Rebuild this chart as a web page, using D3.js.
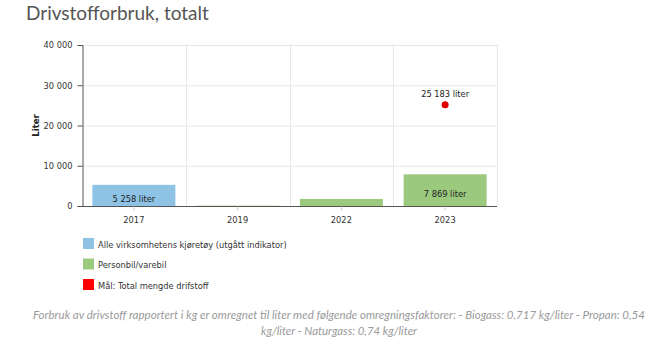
<!DOCTYPE html>
<html>
<head>
<meta charset="utf-8">
<script src="https://cdn.jsdelivr.net/npm/d3@7"></script>
<style>
  html, body { margin: 0; padding: 0; background: #fff; }
  svg { display: block; }
</style>
</head>
<body>
<svg id="chart" width="650" height="339"></svg>
<script>
// Fuel consumption per year (litres)
const years = ["2017", "2019", "2022", "2023"];
const allVehicles = [5258, null, null, null];        // Alle virksomhetens kjøretøy (utgått indikator)
const carsVans = [null, 80, 1750, 7869];               // Personbil/varebil
const targetYear = "2023";
const targetValue = 25183;                             // Mål: Total mengde drifstoff
const yTicks = [0, 10000, 20000, 30000, 40000];
const legendItems = ["Alle virksomhetens kjøretøy (utgått indikator)", "Personbil/varebil", "Mål: Total mengde drifstoff"];
const legendColors = ["#8ec3e6", "#9bc97e", "#ff0000"];
const footnote = ["Forbruk av drivstoff rapportert i kg er omregnet til liter med følgende omregningsfaktorer: - Biogass: 0,717 kg/liter - Propan: 0,54",
                  "kg/liter - Naturgass: 0,74 kg/liter"];

const svg = d3.select("#chart");
const tickFont = "'DejaVu Sans Condensed', Verdana, 'DejaVu Sans', sans-serif";
const fs = 9.2;
const fmt = v => d3.format(",")(v).replace(/,/g, "\u00a0");

const m = { left: 82, right: 497, top: 45, bottom: 206 };
const x = d3.scaleBand().domain(years).range([m.left, m.right]).paddingInner(0).paddingOuter(0);
const y = d3.scaleLinear().domain([0, 40000]).range([m.bottom, m.top]);

// Title
svg.append("text").attr("x", 26).attr("y", 20)
  .attr("font-family", "Lato, 'Open Sans', sans-serif").attr("font-size", 19)
  .attr("fill", "#555").text("Drivstofforbruk, totalt");

// Grid
const grid = svg.append("g");
grid.selectAll("line.h").data(yTicks.filter(d => d > 0)).join("line")
  .attr("x1", m.left).attr("x2", m.right)
  .attr("y1", d => y(d) + 0.5).attr("y2", d => y(d) + 0.5)
  .attr("stroke", "#e8e8e8");
grid.selectAll("line.v").data(years).join("line")
  .attr("x1", d => Math.round(x(d) + x.bandwidth()) + 0.5).attr("x2", d => Math.round(x(d) + x.bandwidth()) + 0.5)
  .attr("y1", m.top - 1).attr("y2", m.bottom)
  .attr("stroke", "#e8e8e8");

// Bars
const barW = x.bandwidth() * 0.8;
const bars = svg.append("g");
const drawBars = (vals, color) => {
  bars.append("g").selectAll("rect")
    .data(years.map((yr, i) => ({ yr, v: vals[i] })).filter(d => d.v != null))
    .join("rect")
    .attr("x", d => x(d.yr) + (x.bandwidth() - barW) / 2)
    .attr("width", barW)
    .attr("y", d => y(d.v))
    .attr("height", d => Math.max(0.6, y(0) - y(d.v)))
    .attr("fill", color);
};
drawBars(allVehicles, legendColors[0]);
drawBars(carsVans, legendColors[1]);

// Bar value labels
const labelled = [
  { yr: "2017", v: allVehicles[0] },
  { yr: "2023", v: carsVans[3] }
];
svg.append("g").selectAll("text").data(labelled).join("text")
  .attr("x", d => x(d.yr) + x.bandwidth() / 2)
  .attr("y", d => (y(d.v) + y(0)) / 2 + 6.5)
  .attr("text-anchor", "middle")
  .attr("font-family", tickFont).attr("font-size", fs).attr("fill", "#222")
  .text(d => fmt(d.v) + " liter");

// Target point
svg.append("circle")
  .attr("cx", x(targetYear) + x.bandwidth() / 2)
  .attr("cy", y(targetValue))
  .attr("r", 3.5).attr("fill", "#e00000");
svg.append("text")
  .attr("x", x(targetYear) + x.bandwidth() / 2)
  .attr("y", y(targetValue) - 8)
  .attr("text-anchor", "middle")
  .attr("font-family", tickFont).attr("font-size", fs).attr("fill", "#222")
  .text(fmt(targetValue) + " liter");

// Axes
const yAxis = svg.append("g").attr("transform", `translate(${m.left + 0.5},0)`)
  .call(d3.axisLeft(y).tickValues(yTicks).tickSize(5).tickPadding(5).tickFormat(fmt));
const xAxis = svg.append("g").attr("transform", `translate(0,${m.bottom + 0.5})`)
  .call(d3.axisBottom(x).tickSize(4).tickPadding(6));
[yAxis, xAxis].forEach(a => {
  a.select(".domain").attr("stroke", "#555");
  a.selectAll(".tick line").attr("stroke", "#555");
  a.selectAll("text").attr("font-family", tickFont).attr("font-size", fs).attr("fill", "#333");
});
xAxis.select(".domain").attr("d", `M${m.left},0H${m.right}`);
xAxis.selectAll(".tick line").attr("stroke", "#ccc");

// Y axis title
svg.append("text")
  .attr("transform", `translate(39,${(m.top + m.bottom) / 2}) rotate(-90)`)
  .attr("text-anchor", "middle")
  .attr("font-family", tickFont).attr("font-size", 9.5).attr("font-weight", "bold").attr("fill", "#222")
  .text("Liter");

// Legend
const legend = svg.append("g").selectAll("g").data(legendItems).join("g")
  .attr("transform", (d, i) => `translate(83,${238 + i * 20.5})`);
legend.append("rect").attr("width", 11).attr("height", 11)
  .attr("fill", (d, i) => legendColors[i]);
legend.append("text").attr("x", 15).attr("y", 9.5)
  .attr("font-family", tickFont).attr("font-size", fs).attr("fill", "#333")
  .text(d => d);

// Footnote
const fnWidths = [612, 156];
svg.append("g").selectAll("text").data(footnote).join("text")
  .attr("x", 339).attr("y", (d, i) => 319 + i * 16)
  .attr("text-anchor", "middle")
  .attr("font-family", "Lato, 'Open Sans', sans-serif").attr("font-style", "italic")
  .attr("font-size", 11.5).attr("fill", "#9a9a9a")
  .attr("textLength", (d, i) => fnWidths[i]).attr("lengthAdjust", "spacingAndGlyphs")
  .text(d => d);
</script>
</body>
</html>
